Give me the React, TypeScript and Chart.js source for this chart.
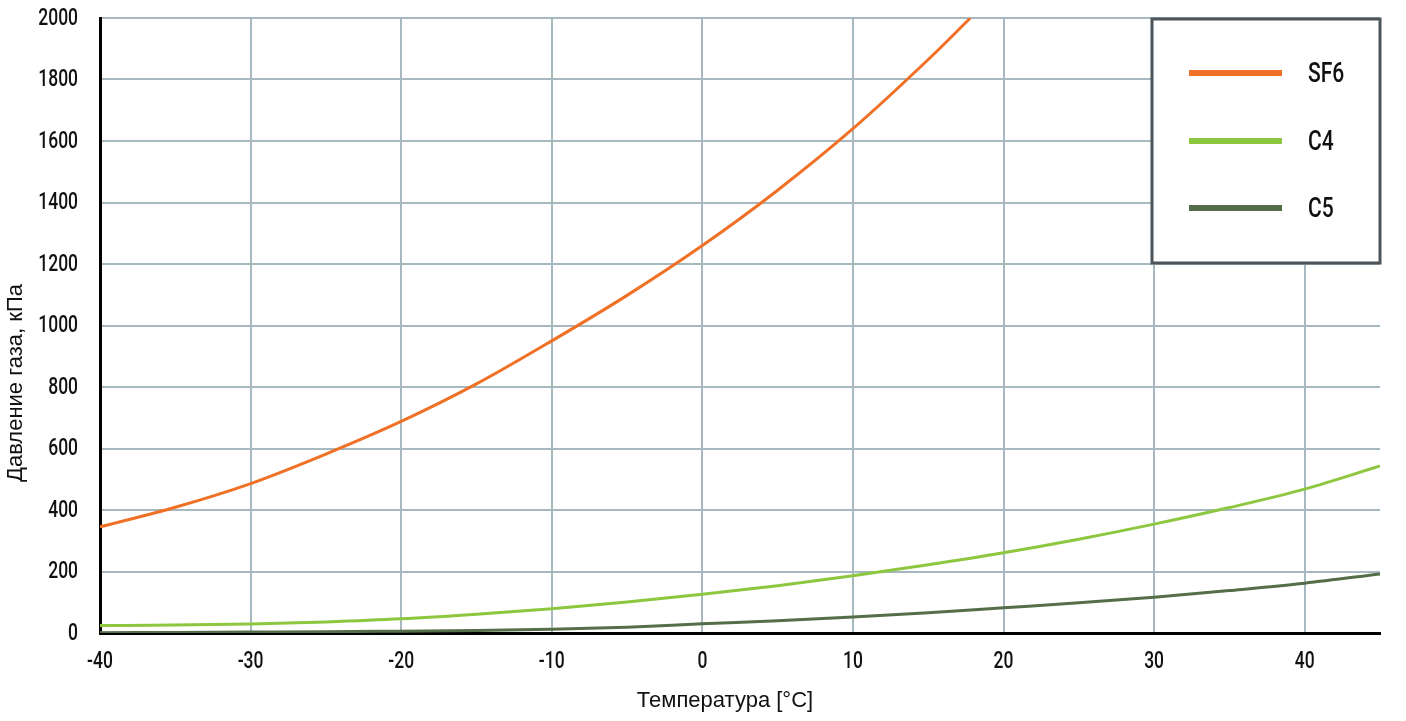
import React, { useEffect, useRef } from "react";
import { Chart, registerables } from "chart.js";

Chart.register(...registerables);

// temperature, °C
const temps = [-40, -35, -30, -25, -20, -15, -10, -5, 0, 5, 10, 15, 20, 25, 30, 35, 40, 45];
const sf6Temps = [-40, -35, -30, -25, -20, -15, -10, -5, 0, 5, 10, 15, 17.8];

// gas pressure, kPa
const sf6 = [345, 409, 486, 582, 688, 810, 950, 1098, 1260, 1440, 1640, 1865, 2000];
const c4 = [24, 26, 29, 36, 46, 61, 79, 101, 126, 154, 186, 222, 261, 305, 354, 408, 468, 543];
const c5 = [1, 2, 3, 4, 6, 8, 12, 19, 30, 40, 52, 66, 82, 98, 116, 138, 162, 192];

const seriesNames = ["SF6", "C4", "C5"];
const seriesColors = ["#f07026", "#8dc63f", "#566e48"];

const xTitle = "Температура [°C]";
const yTitle = "Давление газа, кПа";

const font = "Roboto, 'Liberation Sans', sans-serif";
const titleFont = "'Liberation Sans', Arial, sans-serif";

// condensed-looking text: squeeze Roboto horizontally
function narrowText(c: CanvasRenderingContext2D, text: string, x: number, y: number, size: number, squeeze: number, align: CanvasTextAlign) {
  c.save();
  c.translate(x, y);
  c.scale(squeeze, 1);
  c.font = `500 ${size}px ${font}`;
  c.textAlign = align;
  c.textBaseline = "middle";
  c.fillText(text, 0, 0);
  c.restore();
}

const App: React.FC = () => {
  const chartRef = useRef<HTMLCanvasElement | null>(null);
  const chartInstance = useRef<Chart | null>(null);

  useEffect(() => {
    document.body.style.margin = "0";
    const ctx = chartRef.current?.getContext("2d");
    if (!ctx) return;

    if (chartInstance.current) {
      chartInstance.current.destroy();
    }

    // tick labels, box legend inside the plot, axis titles
    const extras = {
      id: "extras",
      afterDraw(chart: any) {
        const c = chart.ctx as CanvasRenderingContext2D;
        const area = chart.chartArea;
        const xs = chart.scales.x;
        const ys = chart.scales.y;
        c.save();
        c.fillStyle = "#111";

        ys.ticks.forEach((t: any) => {
          narrowText(c, String(t.value), area.left - 22, ys.getPixelForValue(t.value) + 1, 23, 0.76, "right");
        });
        xs.ticks.forEach((t: any) => {
          narrowText(c, String(t.value), xs.getPixelForValue(t.value), area.bottom + 29, 23, 0.76, "center");
        });

        // legend box
        const bx = area.right - 228;
        const by = area.top + 1;
        c.fillStyle = "#ffffff";
        c.fillRect(bx, by, 228, 244);
        c.strokeStyle = "#4b555b";
        c.lineWidth = 3;
        c.strokeRect(bx, by, 228, 244);

        const rows = [55, 123, 190];
        chart.data.datasets.forEach((ds: any, i: number) => {
          const y = area.top + rows[i];
          c.strokeStyle = ds.borderColor;
          c.lineWidth = 6;
          c.beginPath();
          c.moveTo(area.right - 191, y);
          c.lineTo(area.right - 98, y);
          c.stroke();
          c.fillStyle = "#111";
          narrowText(c, ds.label, area.right - 72, y + 2, 27, 0.78, "left");
        });

        // axis titles
        c.fillStyle = "#111";
        c.font = `22px ${titleFont}`;
        c.textAlign = "center";
        c.textBaseline = "middle";
        c.fillText(xTitle, area.left + 625, 701);

        c.translate(16, 383);
        c.rotate(-Math.PI / 2);
        c.fillText(yTitle, 0, 0);
        c.restore();
      },
    };

    chartInstance.current = new Chart(ctx, {
      type: "line",
      data: {
        datasets: [
          {
            label: seriesNames[0],
            data: sf6Temps.map((t, i) => ({ x: t, y: sf6[i] })),
            borderColor: seriesColors[0],
          },
          {
            label: seriesNames[1],
            data: temps.map((t, i) => ({ x: t, y: c4[i] })),
            borderColor: seriesColors[1],
          },
          {
            label: seriesNames[2],
            data: temps.map((t, i) => ({ x: t, y: c5[i] })),
            borderColor: seriesColors[2],
          },
        ].map((ds) => ({
          ...ds,
          borderWidth: 3,
          pointRadius: 0,
          fill: false,
          cubicInterpolationMode: "monotone" as const,
        })),
      },
      options: {
        animation: false,
        responsive: true,
        maintainAspectRatio: false,
        layout: { padding: { top: 18, right: 26, left: 0, bottom: 0 } },
        plugins: {
          legend: { display: false },
          tooltip: { enabled: false },
        },
        scales: {
          x: {
            type: "linear",
            min: -40,
            max: 45,
            afterFit: (scale: any) => {
              scale.height = 88;
              scale.paddingLeft = 0;
              scale.paddingRight = 0;
            },
            afterBuildTicks: (axis: any) => {
              axis.ticks = axis.ticks.filter((t: any) => t.value % 10 === 0);
            },
            ticks: { stepSize: 10, display: false },
            grid: { color: "#a8b8c0", lineWidth: 2, drawTicks: false },
            border: { color: "#000", width: 3 },
          },
          y: {
            min: 0,
            max: 2000,
            afterFit: (scale: any) => {
              scale.width = 100;
              scale.paddingTop = 0;
              scale.paddingBottom = 0;
            },
            ticks: { stepSize: 200, display: false },
            grid: { color: "#a8b8c0", lineWidth: 2, drawTicks: false },
            border: { color: "#000", width: 3 },
          },
        },
      },
      plugins: [extras],
    });

    return () => {
      if (chartInstance.current) {
        chartInstance.current.destroy();
        chartInstance.current = null;
      }
    };
  }, []);

  return (
    <div style={{ position: "relative", width: 1406, height: 721, background: "#fff" }}>
      <canvas ref={chartRef}></canvas>
    </div>
  );
};

export default App;
